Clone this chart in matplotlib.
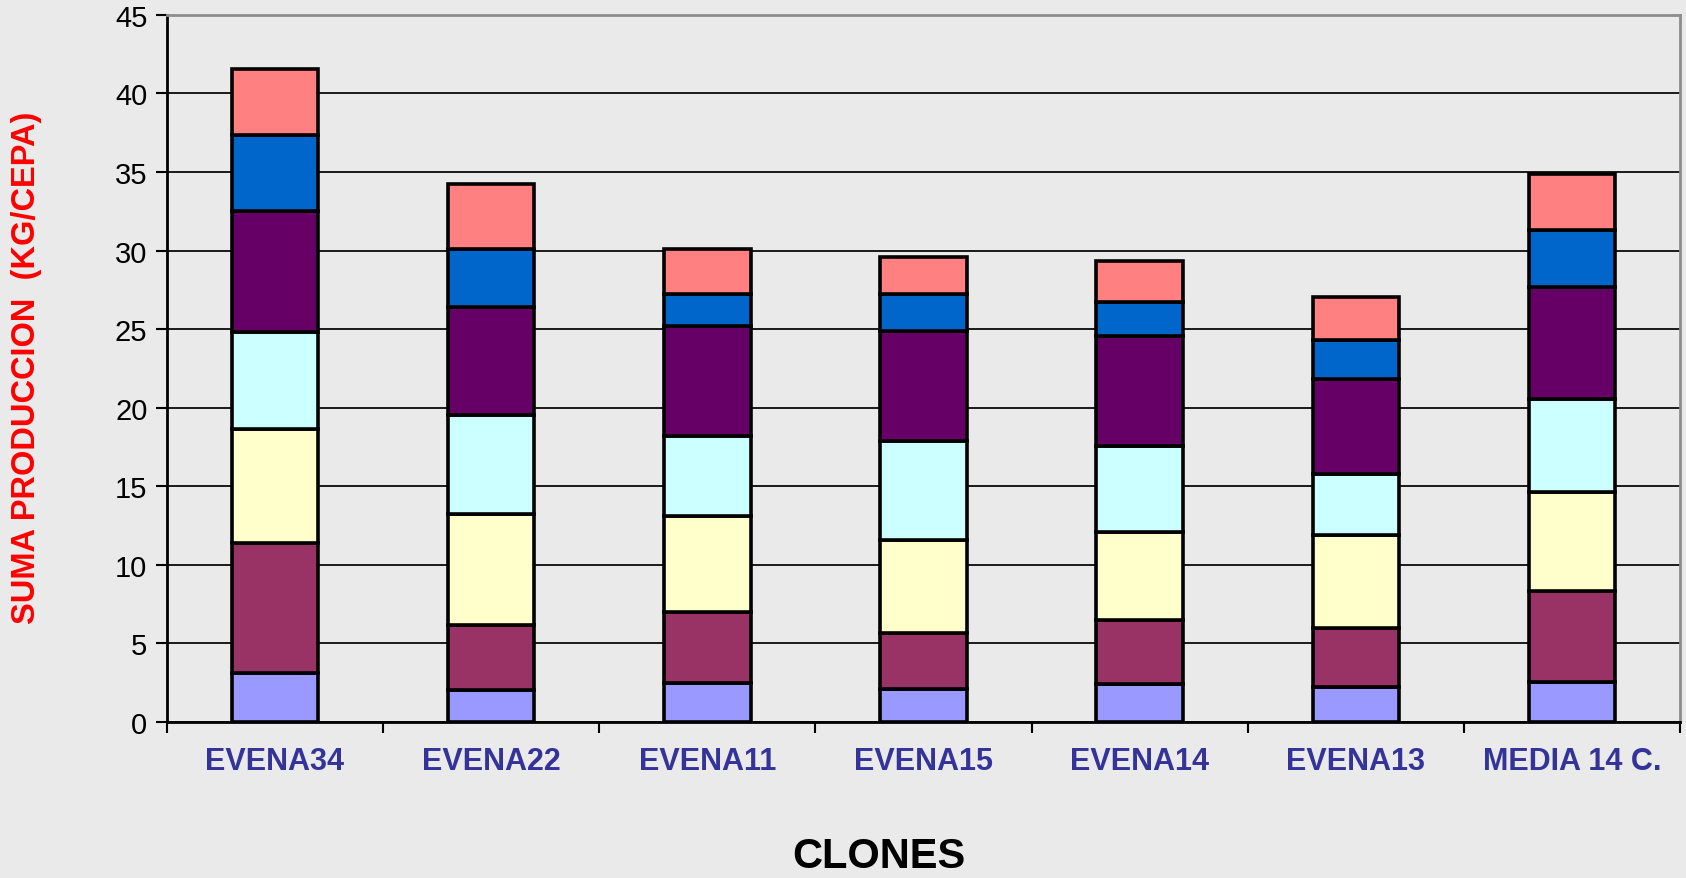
import matplotlib.pyplot as plt
import numpy as np

clones = ["EVENA34", "EVENA22", "EVENA11", "EVENA15", "EVENA14", "EVENA13", "MEDIA 14 C."]

# stacked segments, bottom to top
seg1 = [3.13, 2.01, 2.46, 2.10, 2.40, 2.22, 2.52]
seg2 = [8.26, 4.15, 4.51, 3.58, 4.09, 3.76, 5.84]
seg3 = [7.25, 7.07, 6.13, 5.92, 5.62, 5.92, 6.28]
seg4 = [6.16, 6.28, 5.11, 6.25, 5.47, 3.85, 5.92]
seg5 = [7.72, 6.91, 7.01, 7.04, 6.95, 6.10, 7.09]
seg6 = [4.81, 3.67, 2.01, 2.34, 2.22, 2.47, 3.67]
seg7 = [4.21, 4.17, 2.86, 2.35, 2.56, 2.70, 3.52]

colors = ["#9999FF", "#993366", "#FFFFCC", "#CCFFFF", "#660066", "#0066CC", "#FF8080"]
bg = "#EAEAEA"

fig = plt.figure(figsize=(16.86, 8.79), dpi=100, facecolor=bg)
ax = fig.add_axes([0.099, 0.1775, 0.8975, 0.8045], facecolor=bg)

x = np.arange(len(clones))
bottom = np.zeros(len(clones))
for seg, c in zip([seg1, seg2, seg3, seg4, seg5, seg6, seg7], colors):
    ax.bar(x, seg, 0.40, bottom=bottom, color=c, edgecolor="black", linewidth=2.6, zorder=3)
    bottom += np.array(seg)

ax.set_xlim(-0.5, len(clones) - 0.5)
ax.set_ylim(0, 45)
ax.set_yticks(np.arange(0, 46, 5))
ax.yaxis.grid(True, color="#1a1a1a", linewidth=1.4, zorder=0)

ax.set_xticks(x)
ax.set_xticklabels(clones, fontsize=22, fontweight="bold", color="#333399", family="Liberation Sans")
ax.set_xticks(np.arange(-0.5, len(clones)), minor=True)
ax.tick_params(axis="x", which="major", length=0, pad=17)
ax.tick_params(axis="x", which="minor", length=8, width=1.5, direction="out")
ax.tick_params(axis="y", length=8, width=1.5, labelsize=21, pad=6)
for t in ax.get_yticklabels():
    t.set_family("Liberation Sans")

for s in ["left", "bottom"]:
    ax.spines[s].set_color("black")
    ax.spines[s].set_linewidth(2)
for s in ["top", "right"]:
    ax.spines[s].set_color("#8c8c8c")
    ax.spines[s].set_linewidth(2)

fig.text(0.016, 0.582, "SUMA PRODUCCION  (KG/CEPA)", rotation=90, ha="center", va="center",
         fontsize=23.5, fontweight="bold", color="#FF0000", family="Liberation Sans")
fig.text(0.521, 0.025, "CLONES", ha="center", va="center",
         fontsize=30, fontweight="bold", color="black", family="Liberation Sans")

fig.savefig("out.png", dpi=100, facecolor=bg)
